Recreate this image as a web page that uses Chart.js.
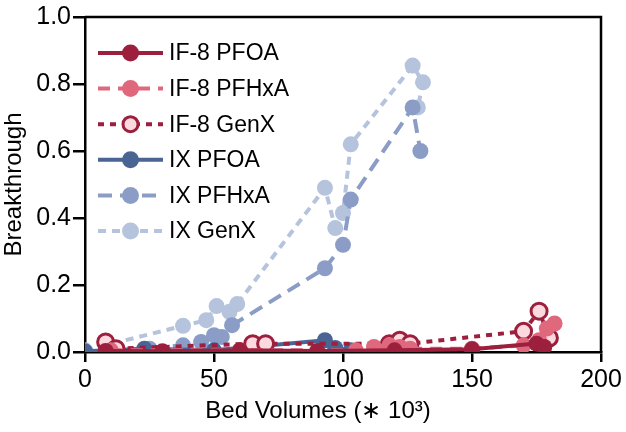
<!DOCTYPE html>
<html>
<head>
<meta charset="utf-8">
<script src="https://cdn.jsdelivr.net/npm/chart.js@4"></script>
<style>
  html, body { margin: 0; padding: 0; background: #fff; }
  #wrap { width: 626px; height: 432px; }
</style>
</head>
<body>
<div id="wrap"><canvas id="breakthroughChart"></canvas></div>
<script>
// Bed volumes (x 10^3) and breakthrough for each series
const if8PfoaBv = [8, 30, 60, 90, 120, 150, 175, 178];
const if8PfoaBt = [0.003, 0.002, 0.005, 0.003, 0.005, 0.008, 0.025, 0.015];

const if8PfhxaBv = [10, 60, 105, 112, 118, 122, 126, 150, 170, 176, 179, 182];
const if8PfhxaBt = [0.005, 0.005, 0.005, 0.015, 0.02, 0.015, 0.01, 0.01, 0.02, 0.035, 0.07, 0.085];

const if8GenxBv = [8, 12, 65, 70, 118, 122, 126, 170, 176, 180];
const if8GenxBt = [0.03, 0.01, 0.025, 0.025, 0.025, 0.035, 0.025, 0.062, 0.122, 0.042];

const ixPfoaBv = [0, 23, 50, 93, 97, 103];
const ixPfoaBt = [0.002, 0.01, 0.005, 0.035, 0.012, 0.005];

const ixPfhxaBv = [0, 10, 25, 38, 45, 50, 53, 57, 93, 100, 103, 127, 130];
const ixPfhxaBt = [0.0, 0.005, 0.01, 0.02, 0.03, 0.05, 0.045, 0.08, 0.25, 0.32, 0.455, 0.73, 0.60];

const ixGenxBv = [0, 38, 47, 51, 56, 59, 93, 97, 100, 103, 127, 131, 129];
const ixGenxBt = [0.005, 0.078, 0.095, 0.137, 0.12, 0.143, 0.49, 0.37, 0.415, 0.62, 0.855, 0.805, 0.73];

const seriesLabels = ['IF-8 PFOA', 'IF-8 PFHxA', 'IF-8 GenX', 'IX PFOA', 'IX PFHxA', 'IX GenX'];
const xTicks = [0, 50, 100, 150, 200];
const yTicks = [0, 0.2, 0.4, 0.6, 0.8, 1.0];
const xTitle = 'Bed Volumes (\u2217 10\u00b3)';

const FONT = '"Liberation Sans", Arial, sans-serif';

function toPoints(xs, ys) {
    return xs.map((x, i) => ({ x: x, y: ys[i] }));
}

function makeSet(label, xs, ys, color, fill, dash, borderW) {
    return {
        label: label,
        data: toPoints(xs, ys),
        borderColor: color,
        backgroundColor: fill,
        pointBackgroundColor: fill,
        pointBorderColor: color,
        pointBorderWidth: borderW,
        pointRadius: 8,
        pointHoverRadius: 8,
        borderWidth: 4,
        borderDash: dash,
        tension: 0,
        fill: false
    };
}

const datasets = [
    makeSet(seriesLabels[0], if8PfoaBv, if8PfoaBt, '#9c1f3e', '#9c1f3e', [], 0),
    makeSet(seriesLabels[1], if8PfhxaBv, if8PfhxaBt, '#e0687d', '#e0687d', [12, 8], 0),
    makeSet(seriesLabels[2], if8GenxBv, if8GenxBt, '#9c1f3e', '#fbd9de', [6, 6], 3),
    makeSet(seriesLabels[3], ixPfoaBv, ixPfoaBt, '#4a6494', '#4a6494', [], 0),
    makeSet(seriesLabels[4], ixPfhxaBv, ixPfhxaBt, '#8b9dc6', '#8b9dc6', [14, 8], 0),
    makeSet(seriesLabels[5], ixGenxBv, ixGenxBt, '#b5c3dd', '#b5c3dd', [8, 6], 0)
];

// Frame on top and right, x title, and custom legend with line + marker
const framePlugin = {
    id: 'frameAndLegend',
    afterDraw(chart) {
        const ctx = chart.ctx;
        const a = chart.chartArea;
        ctx.save();
        ctx.strokeStyle = '#000';
        ctx.lineWidth = 2.5;
        ctx.beginPath();
        ctx.moveTo(a.left, a.top);
        ctx.lineTo(a.right, a.top);
        ctx.lineTo(a.right, a.bottom);
        ctx.stroke();

        // x axis title, sits a bit left of centre in the original
        ctx.fillStyle = '#000';
        ctx.font = '24px ' + FONT;
        ctx.textAlign = 'center';
        ctx.textBaseline = 'middle';
        ctx.fillText(xTitle, 318, 411);

        const x0 = a.left + 13;
        const lineLen = 65;
        let y = a.top + 36;
        ctx.textAlign = 'left';
        chart.data.datasets.forEach(ds => {
            ctx.strokeStyle = ds.borderColor;
            ctx.lineWidth = 4;
            ctx.setLineDash(ds.borderDash);
            ctx.beginPath();
            ctx.moveTo(x0, y);
            ctx.lineTo(x0 + lineLen, y);
            ctx.stroke();
            ctx.setLineDash([]);
            ctx.beginPath();
            ctx.arc(x0 + lineLen / 2, y, 8.5, 0, Math.PI * 2);
            ctx.fillStyle = ds.pointBackgroundColor;
            ctx.fill();
            if (ds.pointBorderWidth) {
                ctx.lineWidth = ds.pointBorderWidth;
                ctx.strokeStyle = ds.pointBorderColor;
                ctx.beginPath();
                ctx.arc(x0 + lineLen / 2, y, 7.5, 0, Math.PI * 2);
                ctx.stroke();
            }
            ctx.fillStyle = '#000';
            ctx.font = '23px ' + FONT;
            ctx.fillText(ds.label, x0 + lineLen + 6, y + 1);
            y += 35.6;
        });
        ctx.restore();
    }
};

new Chart(document.getElementById('breakthroughChart'), {
    type: 'line',
    data: { datasets: datasets },
    options: {
        responsive: true,
        maintainAspectRatio: false,
        animation: false,
        layout: { padding: { top: 17, right: 25, left: 0, bottom: 0 } },
        plugins: {
            legend: { display: false },
            tooltip: { enabled: false }
        },
        scales: {
            x: {
                type: 'linear',
                min: 0,
                max: 200,
                afterBuildTicks: axis => { axis.ticks = xTicks.map(v => ({ value: v })); },
                afterFit: axis => { axis.height = 80; },
                border: { color: '#000', width: 2.5 },
                grid: { drawOnChartArea: false, tickLength: 10, color: '#000', lineWidth: 2.5 },
                ticks: { color: '#000', font: { family: FONT, size: 25 }, padding: 3, maxRotation: 0 },
                title: { display: false }
            },
            y: {
                min: 0,
                max: 1,
                afterBuildTicks: axis => { axis.ticks = yTicks.map(v => ({ value: v })); },
                afterFit: axis => { axis.width = 85; },
                border: { color: '#000', width: 2.5 },
                grid: { drawOnChartArea: false, tickLength: 12, color: '#000', lineWidth: 2.5 },
                ticks: {
                    color: '#000',
                    font: { family: FONT, size: 25 },
                    padding: 2,
                    callback: v => v.toFixed(1)
                },
                title: {
                    display: true,
                    text: 'Breakthrough',
                    color: '#000',
                    font: { family: FONT, size: 24 },
                    padding: { top: 0, bottom: 0 }
                }
            }
        }
    },
    plugins: [framePlugin]
});
</script>
</body>
</html>
